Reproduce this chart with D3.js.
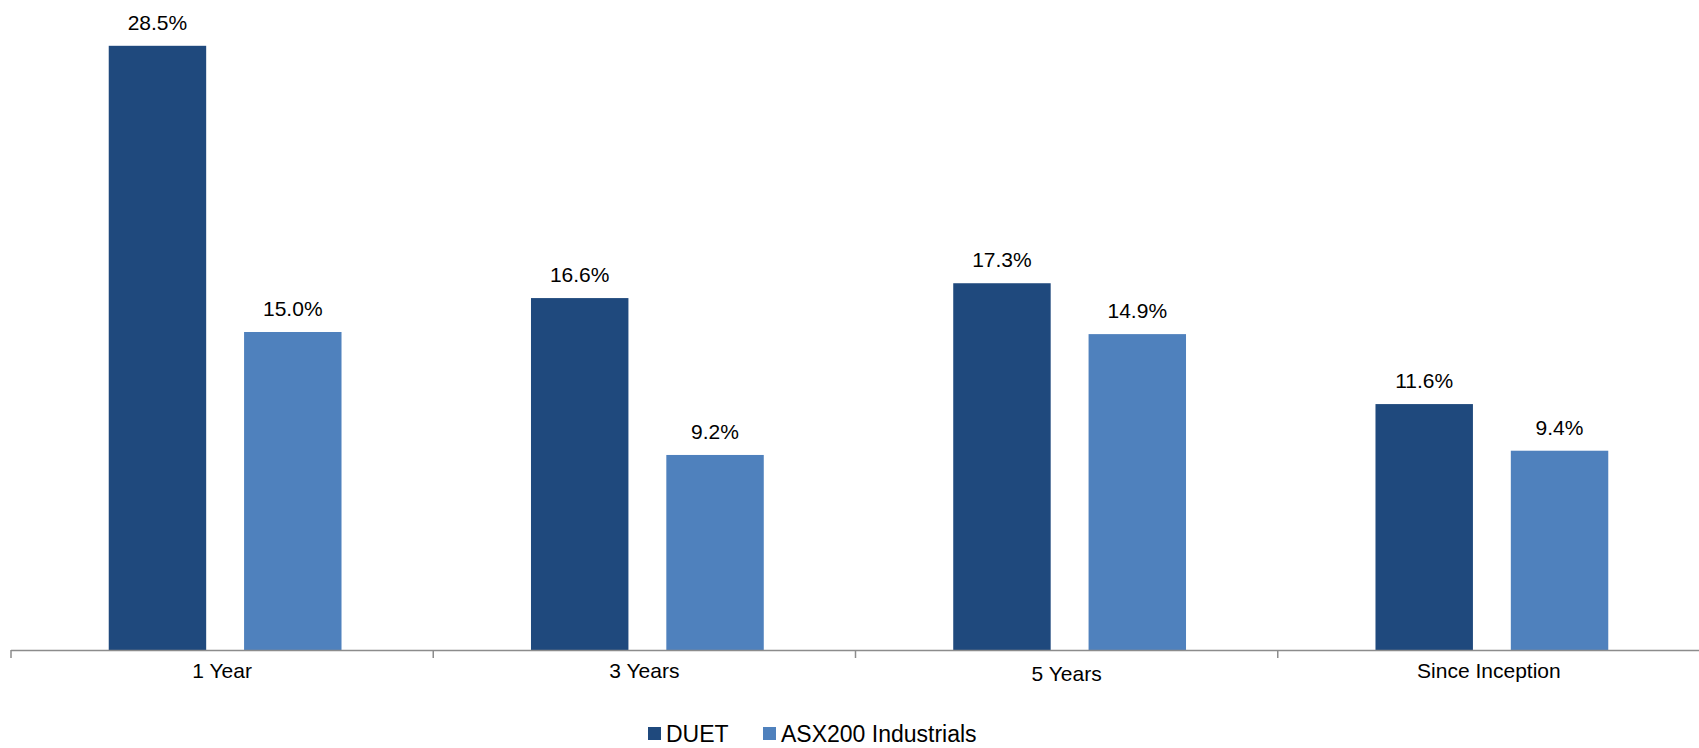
<!DOCTYPE html>
<html>
<head>
<meta charset="utf-8">
<script src="https://cdnjs.cloudflare.com/ajax/libs/d3/7.8.5/d3.min.js"></script>
<style>
  html, body { margin: 0; padding: 0; background: #fff; }
  svg text { font-family: "Liberation Sans", Arial, sans-serif; fill: #000; }
</style>
</head>
<body>
<svg id="chart" width="1699" height="748"></svg>
<script>
// data
var categories = ['1 Year', '3 Years', '5 Years', 'Since Inception'];
var seriesNames = ['DUET', 'ASX200 Industrials'];
var duetValues = [28.5, 16.6, 17.3, 11.6];
var asxValues = [15.0, 9.2, 14.9, 9.4];
var seriesColors = ['#1F497D', '#4F81BD'];

var svg = d3.select('#chart');
var baseY = 650;

var x = d3.scaleBand()
  .domain(categories)
  .range([11, 1700])
  .paddingInner(0)
  .paddingOuter(0);

// bars sit a little right of the band centre, as in the original
var x1 = d3.scaleBand()
  .domain(seriesNames)
  .range([3, x.bandwidth() + 3])
  .paddingInner(0.28)
  .paddingOuter(0.7);

var y = d3.scaleLinear()
  .domain([0, 30])
  .range([baseY, 14]);

var rows = categories.map(function (c, i) {
  return { cat: c, values: [duetValues[i], asxValues[i]] };
});

var groups = svg.selectAll('g.cat')
  .data(rows)
  .enter().append('g')
  .attr('class', 'cat')
  .attr('transform', function (d) { return 'translate(' + x(d.cat) + ',0)'; });

groups.selectAll('rect')
  .data(function (d) { return d.values.map(function (v, j) { return { s: seriesNames[j], v: v, j: j }; }); })
  .enter().append('rect')
  .attr('x', function (d) { return x1(d.s); })
  .attr('y', function (d) { return y(d.v); })
  .attr('width', x1.bandwidth())
  .attr('height', function (d) { return baseY - y(d.v); })
  .style('fill', function (d) { return seriesColors[d.j]; });

groups.selectAll('text.val')
  .data(function (d) { return d.values.map(function (v, j) { return { s: seriesNames[j], v: v }; }); })
  .enter().append('text')
  .attr('class', 'val')
  .attr('x', function (d) { return x1(d.s) + x1.bandwidth() / 2; })
  .attr('y', function (d) { return y(d.v) - 16; })
  .attr('text-anchor', 'middle')
  .style('font-size', '21px')
  .text(function (d) { return d.v.toFixed(1) + '%'; });

// category axis
var axis = d3.axisBottom(x).tickSize(0).tickPadding(0);
var gAxis = svg.append('g')
  .attr('transform', 'translate(0,' + baseY + ')')
  .call(axis);
gAxis.select('.domain').remove();
gAxis.selectAll('text')
  .attr('y', function (d, i) { return i === 2 ? 31 : 28; })
  .attr('dy', null)
  .style('font-size', '21px')
  .style('font-family', '"Liberation Sans", Arial, sans-serif')
  .style('fill', '#000');

svg.append('line')
  .attr('x1', x.range()[0]).attr('x2', x.range()[1])
  .attr('y1', baseY + 0.5).attr('y2', baseY + 0.5)
  .style('stroke', '#8c8c8c').style('stroke-width', 1.5);

var bounds = categories.map(function (c) { return x(c); }).concat([x.range()[1]]);
svg.selectAll('line.tick')
  .data(bounds)
  .enter().append('line')
  .attr('class', 'tick')
  .attr('x1', function (d) { return d; }).attr('x2', function (d) { return d; })
  .attr('y1', baseY).attr('y2', baseY + 8)
  .style('stroke', '#8c8c8c').style('stroke-width', 1.5);

// legend
var legend = svg.append('g').attr('transform', 'translate(648,727)');
var legendX = [0, 115];
seriesNames.forEach(function (name, i) {
  var lg = legend.append('g').attr('transform', 'translate(' + legendX[i] + ',0)');
  lg.append('rect')
    .attr('width', 13).attr('height', 13)
    .style('fill', seriesColors[i]);
  lg.append('text')
    .attr('x', 18).attr('y', 15)
    .style('font-size', '23px')
    .text(name);
});
</script>
</body>
</html>
